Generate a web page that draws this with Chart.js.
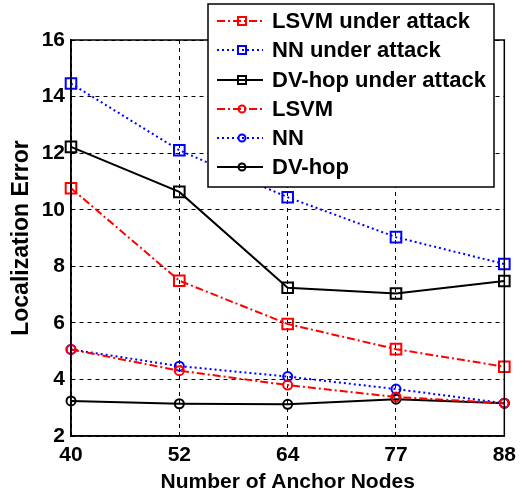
<!DOCTYPE html>
<html>
<head>
<meta charset="utf-8">
<script src="https://cdn.jsdelivr.net/npm/chart.js@4.4.1/dist/chart.umd.min.js"></script>
<style>
    html, body { margin: 0; padding: 0; background: #fff; }
</style>
</head>
<body>
<canvas id="errChart" width="523" height="495"></canvas>
<script>
// Data
const anchorNodes = ['40', '52', '64', '77', '88'];
const lsvmAttack = [10.76, 7.49, 5.96, 5.07, 4.45];
const nnAttack = [14.46, 12.1, 10.44, 9.03, 8.08];
const dvhopAttack = [12.22, 10.63, 7.24, 7.04, 7.48];
const lsvm = [5.06, 4.31, 3.8, 3.38, 3.16];
const nn = [5.06, 4.47, 4.1, 3.66, 3.16];
const dvhop = [3.24, 3.14, 3.12, 3.3, 3.16];
const yTicks = [2, 4, 6, 8, 10, 12, 14, 16];

const FONT = '"Liberation Sans", Arial, Helvetica, sans-serif';
const DASH_DOT = [8, 3, 2, 3];
const DOTTED = [2, 3];

function series(label, data, color, dash, marker) {
    return {
        label: label,
        data: data,
        borderColor: color,
        backgroundColor: 'transparent',
        borderWidth: 2,
        borderDash: dash,
        pointStyle: marker,
        pointRadius: marker === 'rect' ? 7.5 : 4.5,
        pointBorderWidth: 2,
        pointBorderColor: color,
        pointBackgroundColor: 'transparent',
        tension: 0
    };
}

// Box around the plot area
const frame = {
    id: 'frame',
    afterDatasetsDraw(chart) {
        const a = chart.chartArea;
        const ctx = chart.ctx;
        ctx.save();
        ctx.strokeStyle = '#000';
        ctx.lineWidth = 1.5;
        ctx.setLineDash([]);
        ctx.strokeRect(a.left, a.top, a.right - a.left, a.bottom - a.top);
        ctx.restore();
    }
};

// MATLAB-like legend sitting over the top of the axes
const boxLegend = {
    id: 'boxLegend',
    afterDraw(chart) {
        const ctx = chart.ctx;
        const x0 = 208, y0 = 4, w = 286, h = 183;
        const rows = [21, 50, 80, 109, 138, 167];
        ctx.save();
        ctx.fillStyle = '#fff';
        ctx.fillRect(x0, y0, w, h);
        ctx.strokeStyle = '#000';
        ctx.lineWidth = 1.5;
        ctx.setLineDash([]);
        ctx.strokeRect(x0, y0, w, h);

        chart.data.datasets.forEach((ds, i) => {
            const y = rows[i];
            ctx.strokeStyle = ds.borderColor;
            ctx.lineWidth = 2;
            ctx.setLineDash(ds.borderDash);
            ctx.beginPath();
            ctx.moveTo(217, y);
            ctx.lineTo(263, y);
            ctx.stroke();
            ctx.setLineDash([]);
            ctx.beginPath();
            if (ds.pointStyle === 'rect') {
                ctx.rect(238, y - 4, 8, 8);
            } else {
                ctx.arc(242, y, 3.5, 0, Math.PI * 2);
            }
            ctx.stroke();

            ctx.fillStyle = '#000';
            ctx.font = 'bold 22px ' + FONT;
            ctx.textBaseline = 'middle';
            ctx.textAlign = 'left';
            ctx.fillText(ds.label, 272, y + 1);
        });
        ctx.restore();
    }
};

const ctx = document.getElementById('errChart').getContext('2d');
new Chart(ctx, {
    type: 'line',
    data: {
        labels: anchorNodes,
        datasets: [
            series('LSVM under attack', lsvmAttack, '#ff0000', DASH_DOT, 'rect'),
            series('NN under attack', nnAttack, '#0000ff', DOTTED, 'rect'),
            series('DV-hop under attack', dvhopAttack, '#000000', [], 'rect'),
            series('LSVM', lsvm, '#ff0000', DASH_DOT, 'circle'),
            series('NN', nn, '#0000ff', DOTTED, 'circle'),
            series('DV-hop', dvhop, '#000000', [], 'circle')
        ]
    },
    options: {
        responsive: false,
        animation: false,
        layout: { padding: { top: 40, right: 11, left: 0, bottom: 0 } },
        plugins: {
            legend: { display: false },
            tooltip: { enabled: false }
        },
        scales: {
            x: {
                type: 'category',
                offset: false,
                afterFit: (scale) => { scale.height = 59; },
                grid: {
                    color: '#000',
                    lineWidth: 1,
                    drawTicks: false
                },
                border: { display: true, color: '#000', width: 1.5, dash: [4, 4] },
                ticks: {
                    color: '#000',
                    padding: 7,
                    maxRotation: 0,
                    font: { family: FONT, size: 21, weight: 'bold' }
                },
                title: {
                    display: true,
                    text: 'Number of Anchor Nodes',
                    color: '#000',
                    padding: { top: 2, bottom: 0 },
                    font: { family: FONT, size: 21, weight: 'bold' }
                }
            },
            y: {
                min: 2,
                max: 16,
                afterFit: (scale) => { scale.width = 71; },
                afterBuildTicks: (scale) => {
                    scale.ticks = yTicks.map(v => ({ value: v }));
                },
                grid: {
                    color: '#000',
                    lineWidth: 1,
                    drawTicks: false
                },
                border: { display: true, color: '#000', width: 1.5, dash: [4, 4] },
                ticks: {
                    color: '#000',
                    padding: 6,
                    font: { family: FONT, size: 21, weight: 'bold' }
                },
                title: {
                    display: true,
                    text: 'Localization Error',
                    color: '#000',
                    padding: { top: 8, bottom: 2 },
                    font: { family: FONT, size: 23, weight: 'bold' }
                }
            }
        }
    },
    plugins: [frame, boxLegend]
});
</script>
</body>
</html>
